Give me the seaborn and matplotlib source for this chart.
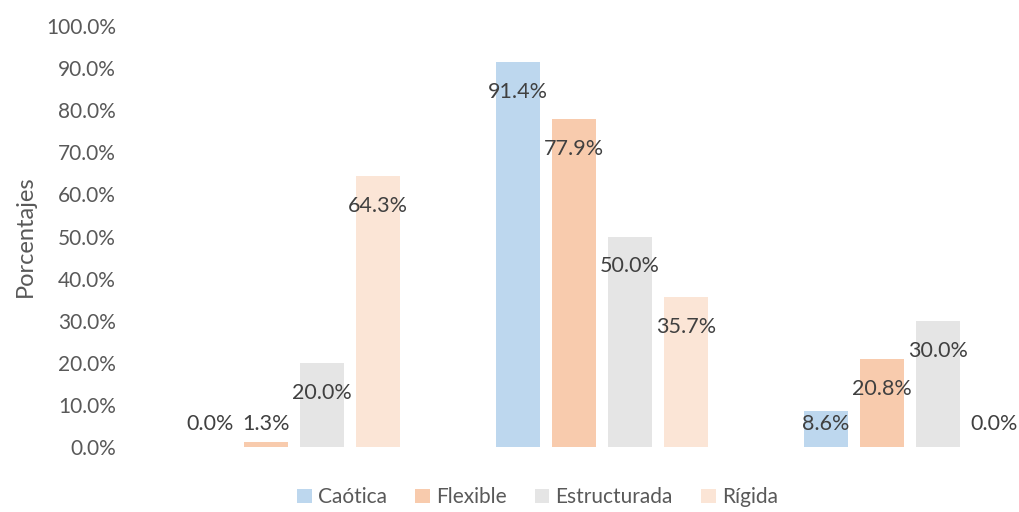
import matplotlib
matplotlib.use('Agg')
import matplotlib.pyplot as plt
import seaborn as sns
import pandas as pd

# Data
groups = ['Grupo 1', 'Grupo 2', 'Grupo 3']
series = ['Caótica', 'Flexible', 'Estructurada', 'Rígida']
caotica = [0.0, 91.4, 8.6]
flexible = [1.3, 77.9, 20.8]
estructurada = [20.0, 50.0, 30.0]
rigida = [64.3, 35.7, 0.0]
yticks = [0, 10, 20, 30, 40, 50, 60, 70, 80, 90, 100]

colors = ['#BDD7EE', '#F8CBAD', '#E5E5E5', '#FBE5D6']

df = pd.DataFrame({
    'grupo': groups * 4,
    'serie': [s for s in series for _ in groups],
    'valor': caotica + flexible + estructurada + rigida,
})

sns.set_style('white')
plt.rcParams['font.family'] = ['Lato', 'DejaVu Sans']

fig = plt.figure(figsize=(10.2, 5.12), dpi=100)
ax = fig.add_axes([0.137, 0.127, 0.863, 0.822])

sns.barplot(data=df, x='grupo', y='valor', hue='serie', hue_order=series,
            palette=colors, width=0.727, gap=0.214, ax=ax, legend=True,
            saturation=1, edgecolor='none')

ax.set_xlim(-0.5, 2.357)
ax.set_ylim(0, 100)
ax.set_yticks(yticks)
ax.set_yticklabels([f'{t:.1f}%' for t in yticks], color='#595959', fontsize=15)
ax.tick_params(axis='y', length=0, pad=17)
ax.set_xticks([])
ax.set_xlabel('')
ax.set_ylabel('Porcentajes', color='#595959', fontsize=17)
ax.yaxis.set_label_coords(-0.118, 0.5)
sns.despine(ax=ax, left=True, bottom=True)

# data labels, inside end
for cont in ax.containers:
    for bar in cont:
        v = bar.get_height()
        y = max(v - 7.1, 5.5)
        ax.text(bar.get_x() + bar.get_width() / 2, y, f'{v:.1f}%',
                ha='center', va='center', fontsize=15.5, color='#404040')

handles, labels = ax.get_legend_handles_labels()
ax.legend_.remove()
fig.legend(handles, labels, loc='center', bbox_to_anchor=(0.527, 0.029), ncol=4,
           frameon=False, fontsize=15, handlelength=0.7, handleheight=0.7,
           handletextpad=0.3, columnspacing=1.35, labelcolor='#595959')

fig.savefig('out.png', dpi=100)
